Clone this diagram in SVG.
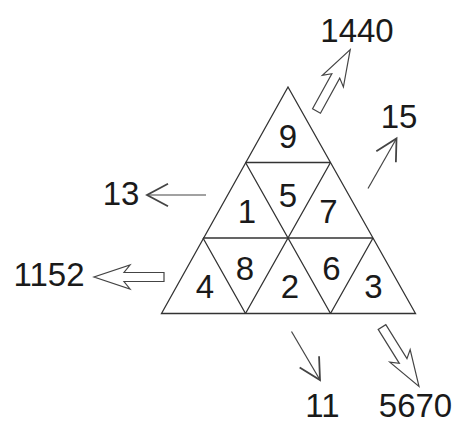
<svg xmlns="http://www.w3.org/2000/svg" width="461" height="423" viewBox="0 0 461 423">
<style>
.ln{fill:none;stroke:#333;stroke-width:1.3;stroke-linejoin:miter}
.ar{fill:none;stroke:#444;stroke-width:1.2}
.ha{fill:#fff;stroke:#444;stroke-width:1.2;stroke-linejoin:miter}
text{font-family:"Liberation Sans",Arial,sans-serif;font-size:33px;fill:#1a1a1a;text-anchor:middle}
</style>
<defs>
<marker id="open" markerUnits="userSpaceOnUse" markerWidth="30" markerHeight="30" viewBox="-15 -10 20 20" refX="0" refY="0" orient="auto">
<path d="M-14,-7.5 L0,0 L-14,7.5" fill="none" stroke="#444" stroke-width="1.2"/>
</marker>
<path id="hollow" d="M0,-4.5 L40,-4.5 L34,-12 L70,0 L34,12 L40,4.5 L0,4.5 Z"/>
</defs>
<rect width="461" height="423" fill="#fff"/>
<g id="triangle">
<path class="ln" d="M288,87 L161.5,313.5 L415.5,313.5 Z"/>
<path class="ln" d="M245.5,162.5 L330.5,162.5 M203,238 L373,238"/>
<path class="ln" d="M245.5,162.5 L330.5,313.5 M330.5,162.5 L245.5,313.5 M203,238 L245.5,313.5 M373,238 L330.5,313.5"/>
</g>
<g id="cells">
<text x="288" y="148">9</text>
<text x="288" y="206.5">5</text>
<text x="247" y="223">1</text>
<text x="328.5" y="223">7</text>
<text x="245" y="280">8</text>
<text x="331.5" y="280">6</text>
<text x="205" y="298">4</text>
<text x="290" y="298">2</text>
<text x="373.5" y="298">3</text>
</g>
<g id="connectors">
<line class="ar" x1="206" y1="195" x2="147" y2="195" marker-end="url(#open)"/>
<line class="ar" x1="368" y1="188.5" x2="396.5" y2="138.5" marker-end="url(#open)"/>
<line class="ar" x1="291.5" y1="331.5" x2="320" y2="380" marker-end="url(#open)"/>
<use href="#hollow" class="ha" transform="translate(164,277) rotate(180)"/>
<use href="#hollow" class="ha" transform="translate(316.5,111) rotate(-61.2)"/>
<use href="#hollow" class="ha" transform="translate(382,327) rotate(58.1)"/>
</g>
<g id="labels">
<text x="357" y="42">1440</text>
<text x="399" y="128">15</text>
<text x="121" y="205">13</text>
<text x="49" y="286">1152</text>
<text x="322.5" y="417">11</text>
<text x="415.5" y="417">5670</text>
</g>
</svg>
